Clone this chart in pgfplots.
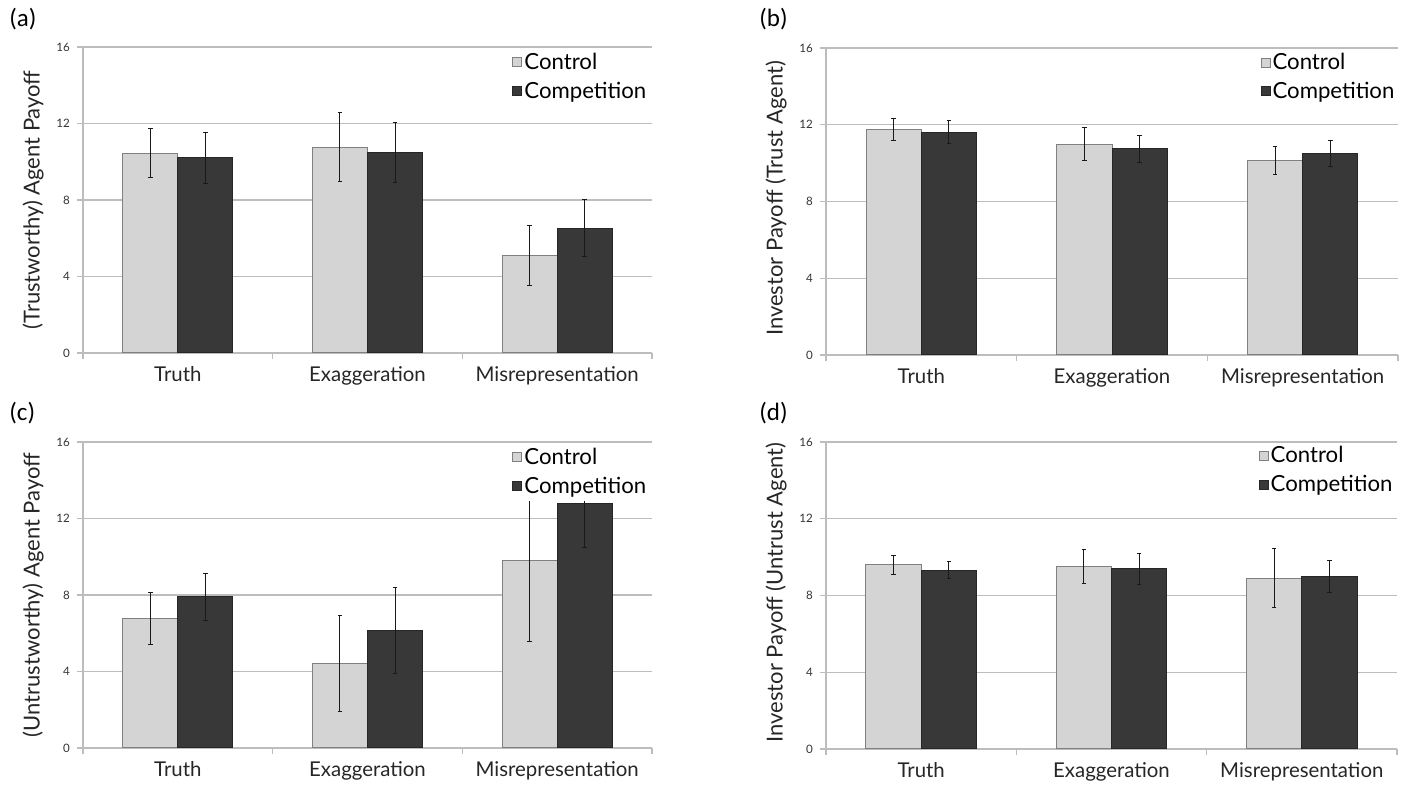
\documentclass[border=0pt]{standalone}
\usepackage{fontspec}
\setmainfont{Lato}
\newfontfamily\calibri{Carlito}
\usepackage{pgfplots}
\pgfplotsset{compat=1.18}

\definecolor{ctrl}{HTML}{D4D4D4}
\definecolor{ctrlline}{HTML}{808080}
\definecolor{comp}{HTML}{383838}
\definecolor{compline}{HTML}{262626}
\definecolor{gridc}{HTML}{BDBDBD}

\pgfplotsset{
  panel/.style={
    scale only axis, width=284.5pt, height=153pt,
    ymin=0, ymax=16, ytick={0,4,8,12,16},
    xmin=-0.5, xmax=2.5,
    xtick={0,1,2}, xticklabels={Truth,Exaggeration,Misrepresentation},
    minor xtick={-0.5,0.5,1.5,2.5},
    axis x line*=bottom, axis y line*=left,
    axis line style={gridc, line width=0.7pt},
    ymajorgrids, grid style={gridc, line width=0.7pt},
    tick align=outside,
    major tick length=3pt, minor tick length=3pt,
    major x tick style={draw=none},
    minor x tick style={draw=gridc, line width=0.7pt},
    y tick style={draw=gridc, line width=0.7pt},
    /pgf/number format/assume math mode=true,
    yticklabel style={font=\fontsize{5.8}{7}\selectfont, text=black!80},
    xticklabel style={font=\fontsize{10.2}{12}\selectfont, text=black!85},
    every axis y label/.style={at={(axis description cs:0,0.5)}, xshift=-25pt, rotate=90, anchor=center, font=\fontsize{11}{13}\selectfont, text=black!85},
    legend image code/.code={\draw[##1, line width=0.5pt] (0pt,-0.9pt) rectangle (4.5pt,3.6pt);},
    legend cell align=left,
    legend style={anchor=north west, draw=none, fill=none, inner sep=0pt,
      font=\fontsize{11.1}{13}\selectfont, row sep=2.5pt,
      /tikz/every odd column/.style={column sep=1pt},
      nodes={inner sep=0pt, text height=8pt, text depth=3.9pt}},
  },
  errs/.style={error bars/.cd, y dir=both, y explicit,
    error bar style={black!90, line width=0.5pt},
    error mark=-,
    error mark options={rotate=90, black!90, line width=0.5pt, mark size=1.1pt}},
  ctrlbar/.style={ybar, bar width=0.29, bar shift=0pt, fill=ctrl, draw=ctrlline, line width=0.5pt, errs},
  compbar/.style={ybar, bar width=0.29, bar shift=0pt, fill=comp, draw=compline, line width=0.5pt, errs},
}

\begin{document}
\begin{tikzpicture}
\path (0,0) rectangle (704pt,392pt);

% (a)
\begin{axis}[panel, at={(41.5pt,215.5pt)}, ylabel={(Trustworthy) Agent Payoff},
  legend style={at={(0.754,0.981)}}]
\addplot[ctrlbar] coordinates {(-0.145,10.45) +- (0,1.3) (0.855,10.77) +- (0,1.8) (1.855,5.12) +- (0,1.57)};
\addplot[compbar] coordinates {(0.145,10.2) +- (0,1.32) (1.145,10.49) +- (0,1.56) (2.145,6.52) +- (0,1.49)};
\legend{Control,Competition}
\end{axis}

% (b)
\begin{axis}[panel, at={(413pt,214.5pt)}, width=286pt, height=153.5pt, ylabel={Investor Payoff (Trust Agent)},
  every axis y label/.append style={xshift=1.5pt},
  legend style={at={(0.759,0.984)}}]
\addplot[ctrlbar] coordinates {(-0.145,11.75) +- (0,0.58) (0.855,10.99) +- (0,0.85) (1.855,10.14) +- (0,0.72)};
\addplot[compbar] coordinates {(0.145,11.61) +- (0,0.59) (1.145,10.75) +- (0,0.71) (2.145,10.5) +- (0,0.67)};
\legend{Control,Competition}
\end{axis}

% (c)
\begin{axis}[panel, at={(41.5pt,18pt)}, ylabel={(Untrustworthy) Agent Payoff},
  legend style={at={(0.754,0.981)}, fill=white}]
\addplot[ctrlbar] coordinates {(-0.145,6.78) +- (0,1.37) (0.855,4.43) +- (0,2.5) (1.855,9.81) +- (0,4.23)};
\addplot[compbar] coordinates {(0.145,7.9) +- (0,1.25) (1.145,6.16) +- (0,2.25) (2.145,12.8) +- (0,2.31)};
\legend{Control,Competition}
\end{axis}

% (d)
\begin{axis}[panel, at={(413pt,17.5pt)}, width=285.5pt, height=153.5pt, ylabel={Investor Payoff (Untrust Agent)},
  every axis y label/.append style={xshift=1.5pt},
  legend style={at={(0.757,0.986)}}]
\addplot[ctrlbar] coordinates {(-0.145,9.6) +- (0,0.48) (0.855,9.51) +- (0,0.88) (1.855,8.91) +- (0,1.53)};
\addplot[compbar] coordinates {(0.145,9.31) +- (0,0.45) (1.145,9.39) +- (0,0.82) (2.145,8.99) +- (0,0.83)};
\legend{Control,Competition}
\end{axis}

\node[anchor=west, inner sep=0pt, font=\calibri\fontsize{12.5}{14}\selectfont] at (4.5pt,382.5pt) {(a)};
\node[anchor=west, inner sep=0pt, font=\calibri\fontsize{12.5}{14}\selectfont] at (379.5pt,382.5pt) {(b)};
\node[anchor=west, inner sep=0pt, font=\calibri\fontsize{12.5}{14}\selectfont] at (4.5pt,185.5pt) {(c)};
\node[anchor=west, inner sep=0pt, font=\calibri\fontsize{12.5}{14}\selectfont] at (379.5pt,185.5pt) {(d)};
\end{tikzpicture}
\end{document}
